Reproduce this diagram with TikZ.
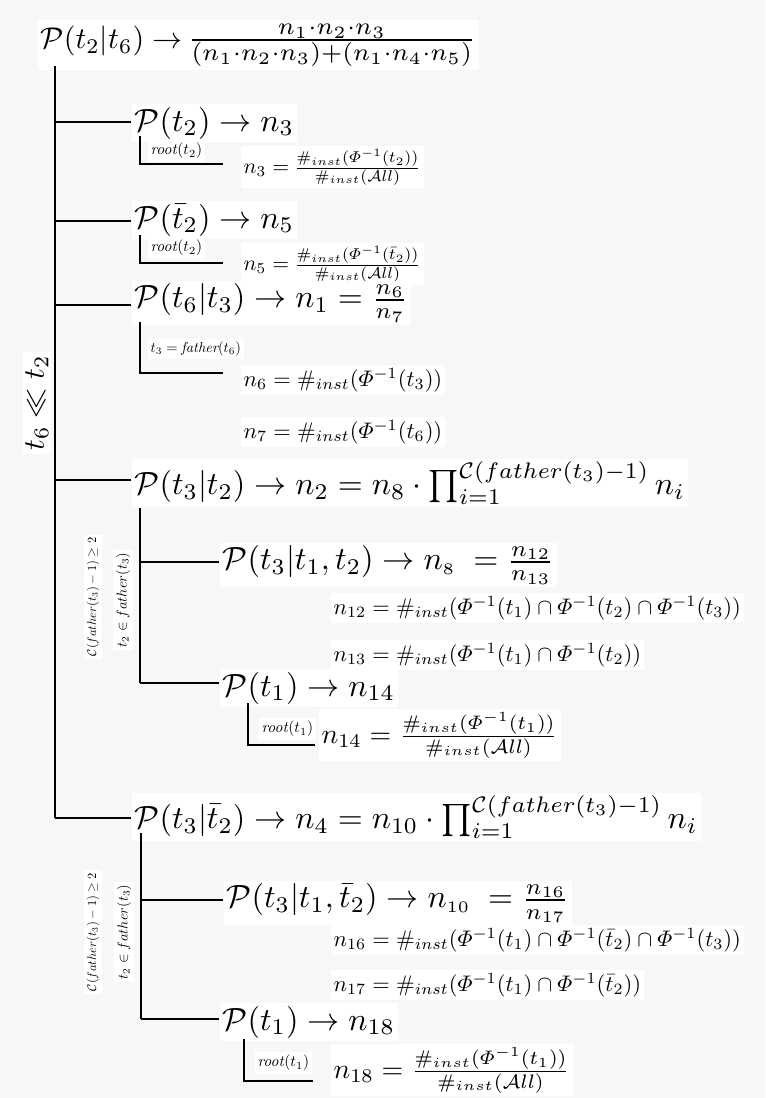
\RequirePackage{fix-cm}
\documentclass[tikz,border=0pt]{standalone}
\usepackage{amsmath}
\tikzset{
  every picture/.style={x=0.3333pt,y=-0.3333pt},
  txt/.style={anchor=west,fill=white,inner sep=1pt},
  side/.style={rotate=90,fill=white,inner sep=1pt},
  ln/.style={line width=0.55pt,draw=black}
}
\newcommand{\Phiinv}[1]{\varPhi^{-1}(#1)}
\newcommand{\ninst}{\#_{inst}}
\newcommand{\B}[1]{\scalebox{1.07}{$#1$}}
\newcommand{\Sm}[1]{\scalebox{0.75}{$#1$}}
\newcommand{\Md}[1]{\scalebox{0.93}{$#1$}}
\newcommand{\Nt}[1]{\scalebox{0.72}{$#1$}}
\newcommand{\Fr}[1]{\scalebox{0.745}{$#1$}}
\newcommand{\Tn}[2]{\scalebox{#1}{#2}}
\begin{document}
\begin{tikzpicture}
\fill[black!3] (0,0) rectangle (765,1098);
\useasboundingbox (0,0) rectangle (765,1098);
% top
\node[txt] (top) at (37,45) {$\mathcal{P}(t_2|t_6)\rightarrow$\,\scalebox{1.15}{$\frac{n_1\cdot n_2\cdot n_3}{(n_1\cdot n_2\cdot n_3)+(n_1\cdot n_4\cdot n_5)}$}};
\node[side,anchor=center] (ll) at (37,403) {$t_6\ll t_2$};
% branch 1
\node[txt] (b1) at (131,123) {\B{\mathcal{P}(t_2)\rightarrow n_3}};
\node[txt] (l1) at (147,151) {\Tn{0.52}{\textit{root}$(t_2)$}};
\node[txt] (f1) at (240,167) {\Nt{n_3=}\,\Fr{\frac{\ninst(\Phiinv{t_2})}{\ninst(\mathcal{A}ll)}}};
% branch 2
\node[txt] (b2) at (131,220) {\B{\mathcal{P}(\bar{t}_2)\rightarrow n_5}};
\node[txt] (l2) at (147,248) {\Tn{0.52}{\textit{root}$(t_2)$}};
\node[txt] (f2) at (240,264) {\Nt{n_5=}\,\Fr{\frac{\ninst(\Phiinv{\bar{t}_2})}{\ninst(\mathcal{A}ll)}}};
% branch 3
\node[txt] (b3) at (131,303) {\B{\mathcal{P}(t_6|t_3)\rightarrow n_1=\frac{n_6}{n_7}}};
\node[txt] (l3) at (147,349) {\Tn{0.48}{$t_3=\textit{father}(t_6)$}};
\node[txt] (f3a) at (240,380) {\Sm{n_6=\ninst(\Phiinv{t_3})}};
\node[txt] (f3b) at (240,432) {\Sm{n_7=\ninst(\Phiinv{t_6})}};
% branch 4
\node[txt] (b4) at (131,483) {\B{\mathcal{P}(t_3|t_2)\rightarrow n_2=n_8\cdot\prod_{i=1}^{\mathcal{C}(father(t_3)-1)} n_i}};
\node[txt] (c41) at (219,565) {\B{\mathcal{P}(t_3|t_1,t_2)\rightarrow n_{\scriptscriptstyle 8}\;=\frac{n_{12}}{n_{13}}}};
\node[txt] (f41a) at (330,608) {\Sm{n_{12}=\ninst(\Phiinv{t_1}\cap\Phiinv{t_2}\cap\Phiinv{t_3})}};
\node[txt] (f41b) at (330,655) {\Sm{n_{13}=\ninst(\Phiinv{t_1}\cap\Phiinv{t_2})}};
\node[txt] (c42) at (219,688) {\B{\mathcal{P}(t_1)\rightarrow n_{14}}};
\node[txt] (l42) at (258,729) {\Tn{0.52}{\textit{root}$(t_1)$}};
\node[txt] (f42) at (318,735) {\Md{n_{14}=\frac{\ninst(\Phiinv{t_1})}{\ninst(\mathcal{A}ll)}}};
\node[side] (r4a) at (93,597) {\Tn{0.415}{$\mathcal{C}(father(t_3)-1)\geq 2$}};
\node[side] (r4b) at (123,600) {\Tn{0.475}{$t_2\in father(t_3)$}};
% branch 5
\node[txt] (b5) at (131,817) {\B{\mathcal{P}(t_3|\bar{t}_2)\rightarrow n_4=n_{10}\cdot\prod_{i=1}^{\mathcal{C}(father(t_3)-1)} n_i}};
\node[txt] (c51) at (223,903) {\B{\mathcal{P}(t_3|t_1,\bar{t}_2)\rightarrow n_{\scriptscriptstyle 10}\;=\frac{n_{16}}{n_{17}}}};
\node[txt] (f51a) at (330,940) {\Sm{n_{16}=\ninst(\Phiinv{t_1}\cap\Phiinv{\bar{t}_2}\cap\Phiinv{t_3})}};
\node[txt] (f51b) at (330,985) {\Sm{n_{17}=\ninst(\Phiinv{t_1}\cap\Phiinv{\bar{t}_2})}};
\node[txt] (c52) at (219,1022) {\B{\mathcal{P}(t_1)\rightarrow n_{18}}};
\node[txt] (l52) at (254,1063) {\Tn{0.52}{\textit{root}$(t_1)$}};
\node[txt] (f52) at (330,1070) {\Md{n_{18}=\frac{\ninst(\Phiinv{t_1})}{\ninst(\mathcal{A}ll)}}};
\node[side] (r5a) at (93,932) {\Tn{0.415}{$\mathcal{C}(father(t_3)-1)\geq 2$}};
\node[side] (r5b) at (124,932) {\Tn{0.475}{$t_2\in father(t_3)$}};
% coordinates
\coordinate (m0) at (55,66);
\coordinate (m1) at (55,122);
\coordinate (m2) at (55,221);
\coordinate (m3) at (55,305);
\coordinate (m4) at (55,480);
\coordinate (m5) at (55,818);
\coordinate (s1) at (140,136);
\coordinate (e1) at (223,164);
\coordinate (s2) at (140,235);
\coordinate (e2) at (223,263);
\coordinate (s3) at (140,322);
\coordinate (e3) at (223,373);
\coordinate (v4t) at (140,508);
\coordinate (v4a) at (140,562);
\coordinate (v4b) at (140,683);
\coordinate (s42) at (248,703);
\coordinate (e42) at (315,745);
\coordinate (v5t) at (141,833);
\coordinate (v5a) at (141,900);
\coordinate (v5b) at (141,1019);
\coordinate (s52) at (244,1039);
\coordinate (e52) at (313,1081);
% lines
\draw[ln] (m0) -- (m5);
\draw[ln] (m1) -- (m1 -| b1.west);
\draw[ln] (m2) -- (m2 -| b2.west);
\draw[ln] (m3) -- (m3 -| b3.west);
\draw[ln] (m4) -- (m4 -| b4.west);
\draw[ln] (m5) -- (m5 -| b5.west);
\draw[ln] (s1) |- (e1);
\draw[ln] (s2) |- (e2);
\draw[ln] (s3) |- (e3);
\draw[ln] (v4t) -- (v4b);
\draw[ln] (v4a) -- (v4a -| c41.west);
\draw[ln] (v4b) -- (v4b -| c42.west);
\draw[ln] (s42) |- (e42);
\draw[ln] (v5t) -- (v5b);
\draw[ln] (v5a) -- (v5a -| c51.west);
\draw[ln] (v5b) -- (v5b -| c52.west);
\draw[ln] (s52) |- (e52);
\end{tikzpicture}
\end{document}
